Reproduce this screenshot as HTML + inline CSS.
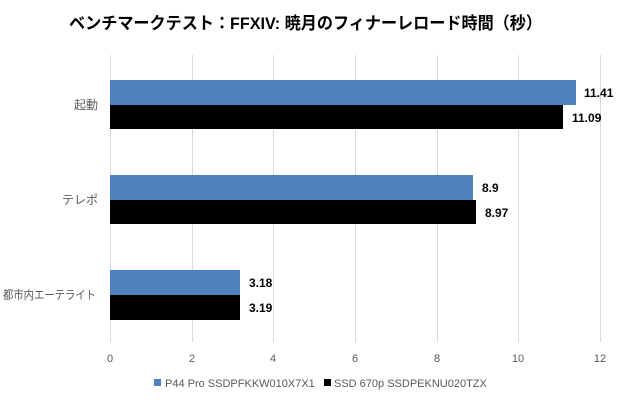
<!DOCTYPE html>
<html><head><meta charset="utf-8"><style>
body{margin:0;background:#fff}
svg text{font-family:"Liberation Sans","Noto Sans CJK JP",sans-serif}
</style></head><body>
<svg width="620" height="400" xmlns="http://www.w3.org/2000/svg">
<rect width="620" height="400" fill="#fff"/>
<text x="69" y="29" textLength="473" lengthAdjust="spacingAndGlyphs" font-size="17" font-weight="bold" fill="#000">ベンチマークテスト：FFXIV: 暁月のフィナーレロード時間（秒）</text>
<g stroke="#d9d9d9" stroke-width="1">
<line x1="110.5" y1="55" x2="110.5" y2="342"/>
<line x1="192.5" y1="55" x2="192.5" y2="342"/>
<line x1="273.5" y1="55" x2="273.5" y2="342"/>
<line x1="355.5" y1="55" x2="355.5" y2="342"/>
<line x1="437.5" y1="55" x2="437.5" y2="342"/>
<line x1="518.5" y1="55" x2="518.5" y2="342"/>
<line x1="600.5" y1="55" x2="600.5" y2="342"/>
</g>
<g>
<rect x="110" y="80" width="466" height="25" fill="#4f81bd"/>
<rect x="110" y="105" width="453" height="24" fill="#000"/>
<rect x="110" y="175" width="363" height="25" fill="#4f81bd"/>
<rect x="110" y="200" width="366" height="24" fill="#000"/>
<rect x="110" y="270" width="130" height="25" fill="#4f81bd"/>
<rect x="110" y="295" width="130" height="25" fill="#000"/>
</g>
<g font-size="12" font-weight="bold" fill="#000">
<text x="584" y="97">11.41</text>
<text x="572" y="122">11.09</text>
<text x="482" y="192">8.9</text>
<text x="485" y="217">8.97</text>
<text x="249" y="287">3.18</text>
<text x="249" y="312">3.19</text>
</g>
<g font-size="12" fill="#595959" text-anchor="end">
<text x="98" y="109">起動</text>
<text x="98" y="204">テレポ</text>
<text x="3" y="299" text-anchor="start" textLength="93" lengthAdjust="spacingAndGlyphs">都市内エーテライト</text>
</g>
<g font-size="11" fill="#595959" text-anchor="middle">
<text x="110" y="362">0</text><text x="192" y="362">2</text><text x="273" y="362">4</text>
<text x="355" y="362">6</text><text x="437" y="362">8</text><text x="518" y="362">10</text><text x="600" y="362">12</text>
</g>
<rect x="154" y="379" width="7" height="7" fill="#4f81bd"/>
<text x="165" y="387" font-size="11" fill="#595959">P44 Pro SSDPFKKW010X7X1</text>
<rect x="324" y="379" width="7" height="7" fill="#000"/>
<text x="334" y="387" font-size="11" fill="#595959">SSD 670p SSDPEKNU020TZX</text>
</svg>
</body></html>
